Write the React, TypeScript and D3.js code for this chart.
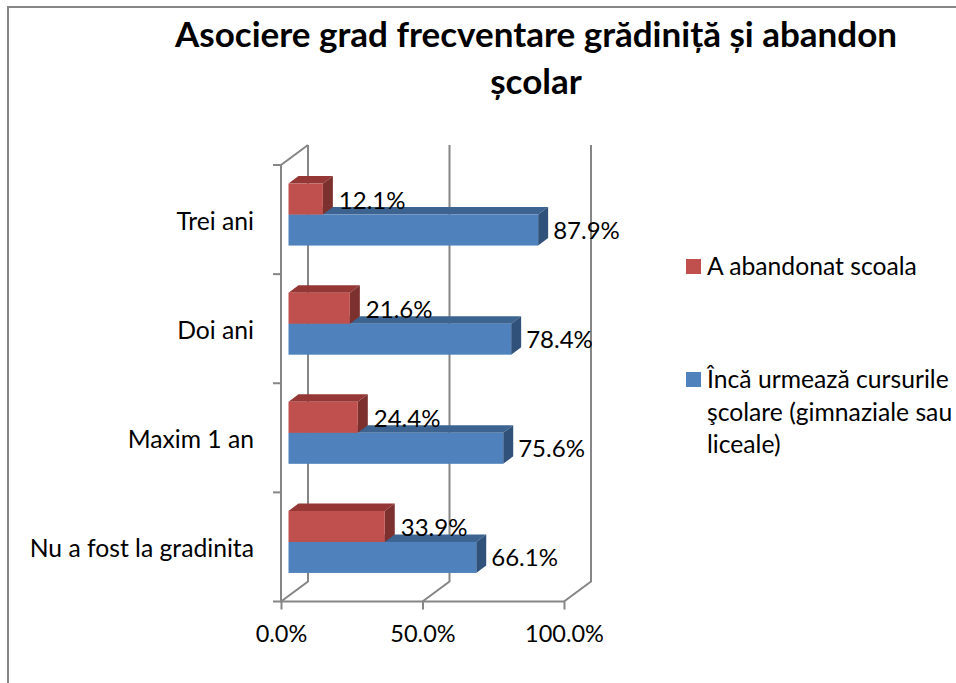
import React, { useEffect, useRef } from "react";
import * as d3 from "d3";

const categories = ["Trei ani", "Doi ani", "Maxim 1 an", "Nu a fost la gradinita"];
const abandoned = [12.1, 21.6, 24.4, 33.9];
const enrolled = [87.9, 78.4, 75.6, 66.1];
const xTicks = [0, 50, 100];
const titleLines = ["Asociere grad frecventare grădiniță și abandon", "școlar"];
const legendAbandoned = ["A abandonat scoala"];
const legendEnrolled = ["Încă urmează cursurile", "şcolare (gimnaziale sau", "liceale)"];

const FONT = "Lato, 'Open Sans', sans-serif";
const GREY = "#868686";
const RED = { front: "#c0504d", top: "#953735", side: "#7d312f" };
const BLUE = { front: "#4f81bd", top: "#3d6491", side: "#30517a" };

export default function App() {
  const ref = useRef<SVGSVGElement>(null);

  useEffect(() => {
    const svg = d3.select(ref.current);
    svg.selectAll("*").remove();

    const wallDx = 27;
    const wallDy = -20;
    const barDx = 10;
    const barDy = -7.5;
    const barInset = 7.5;

    const x = d3.scaleLinear().domain([0, 100]).range([281, 564]);
    // bars sit on a plane a little wider than the front axis
    const xBar = d3.scaleLinear().domain([0, 100]).range([x(0) + barInset, x(100) + barInset + 1]);
    const y = d3.scaleBand().domain(categories).range([165, 601.5]);
    const top = y.range()[0];
    const bottom = y.range()[1];
    const barHeight = 31;

    // chart frame
    svg.append("path")
      .attr("d", "M8,683V7H956")
      .attr("fill", "none")
      .attr("stroke", GREY)
      .attr("stroke-width", 2);

    const grid = svg.append("g").attr("stroke", GREY).attr("stroke-width", 2).attr("fill", "none");

    // back wall lines and floor lines
    xTicks.forEach((t) => {
      grid.append("path").attr(
        "d",
        d3.line()([
          [x(t), bottom],
          [x(t) + wallDx, bottom + wallDy],
          [x(t) + wallDx, top + wallDy],
        ])
      );
    });
    grid.append("path").attr(
      "d",
      d3.line()([
        [x(0) + wallDx, top + wallDy],
        [x(0), top],
        [x(0), bottom],
        [x(100), bottom],
      ])
    );

    // category ticks
    const yEdges = [...categories.map((c) => y(c) as number), bottom];
    grid.selectAll("line.cat")
      .data(yEdges)
      .join("line")
      .attr("class", "cat")
      .attr("x1", x(0) - 8)
      .attr("x2", x(0))
      .attr("y1", (d) => d)
      .attr("y2", (d) => d);

    // value axis
    const axis = svg.append("g")
      .attr("transform", `translate(0,${bottom})`)
      .call(
        d3.axisBottom(x)
          .tickValues(xTicks)
          .tickSize(8)
          .tickPadding(16)
          .tickFormat((d) => d3.format(".1f")(d as number) + "%")
      );
    axis.select(".domain").remove();
    axis.selectAll("line").attr("stroke", GREY).attr("stroke-width", 2);
    axis.selectAll("text")
      .attr("font-family", FONT)
      .attr("font-size", 23.5)
      .attr("fill", "#000");

    const drawBar = (v: number, yTop: number, c: typeof RED) => {
      const x0 = xBar(0);
      const x1 = xBar(v);
      const g = svg.append("g");
      g.append("path")
        .attr("fill", c.top)
        .attr("d", d3.line()([
          [x0, yTop],
          [x0 + barDx, yTop + barDy],
          [x1 + barDx, yTop + barDy],
          [x1, yTop],
        ]) + "Z");
      g.append("path")
        .attr("fill", c.side)
        .attr("d", d3.line()([
          [x1, yTop],
          [x1 + barDx, yTop + barDy],
          [x1 + barDx, yTop + barDy + barHeight],
          [x1, yTop + barHeight],
        ]) + "Z");
      g.append("rect")
        .attr("x", x0)
        .attr("y", yTop)
        .attr("width", x1 - x0)
        .attr("height", barHeight)
        .attr("fill", c.front);
    };

    const barTop = (cat: string) => (y(cat) as number) + y.bandwidth() / 2 - 5 - barHeight;

    categories.forEach((cat, i) => {
      drawBar(enrolled[i], barTop(cat) + barHeight, BLUE);
      drawBar(abandoned[i], barTop(cat), RED);
    });

    const label = (sel: any, size = 24.7) =>
      sel.attr("font-family", FONT).attr("font-size", size).attr("fill", "#000");

    // data labels
    categories.forEach((cat, i) => {
      svg.append("text").call(label, 24)
        .attr("x", xBar(abandoned[i]) + barDx + 6)
        .attr("y", barTop(cat) + 25)
        .text(abandoned[i].toFixed(1) + "%");
      svg.append("text").call(label, 24)
        .attr("x", xBar(enrolled[i]) + barDx + 5)
        .attr("y", barTop(cat) + barHeight + 24.5)
        .text(enrolled[i].toFixed(1) + "%");
      svg.append("text").call(label)
        .attr("x", 254)
        .attr("y", (y(cat) as number) + y.bandwidth() / 2 + 10)
        .attr("text-anchor", "end")
        .text(cat);
    });

    // title
    titleLines.forEach((line, i) => {
      svg.append("text")
        .attr("x", 536)
        .attr("y", 47 + i * 47)
        .attr("text-anchor", "middle")
        .attr("font-family", FONT)
        .attr("font-weight", 700)
        .attr("font-size", 35)
        .attr("fill", "#000")
        .text(line);
    });

    // legend
    const legend = [
      { lines: legendAbandoned, color: RED.front, y: 259 },
      { lines: legendEnrolled, color: BLUE.front, y: 372 },
    ];
    legend.forEach((item) => {
      svg.append("rect")
        .attr("x", 686)
        .attr("y", item.y)
        .attr("width", 15)
        .attr("height", 15)
        .attr("fill", item.color);
      item.lines.forEach((line, i) => {
        svg.append("text").call(label)
          .attr("x", 707)
          .attr("y", item.y + 16 + i * 32.5)
          .text(line);
      });
    });
  }, []);

  return (
    <svg
      ref={ref}
      width={956}
      height={683}
      style={{ position: "absolute", left: 0, top: 0, background: "#fff" }}
    ></svg>
  );
}
